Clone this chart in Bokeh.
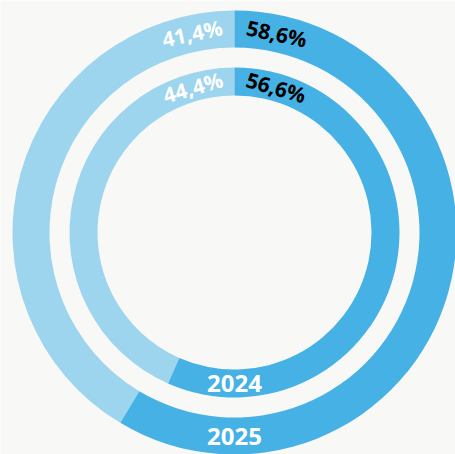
import math
from bokeh.plotting import figure
from bokeh.models import Range1d, ColumnDataSource
from bokeh.core.properties import value
from bokeh.embed import file_html
from bokeh.resources import INLINE

# Data
years = ["2024", "2025"]
share_dark = [56.6, 58.6]
share_light = [44.4, 41.4]
dark_labels = ["56,6%", "58,6%"]
light_labels = ["44,4%", "41,4%"]

# Style / layout
W, H = 455, 454
CX, CY = 234, 232  # ring centre in pixels from top-left of figure
inner_r = [137, 185]
outer_r = [165, 222]
label_deg = [16, 12]
DARK = "#45b1e5"
LIGHT = "#9dd5ef"
BG = "#f8f8f6"

p = figure(width=W, height=H, output_backend="svg", toolbar_location=None,
           x_range=Range1d(-CX, W - CX), y_range=Range1d(-(H - CY), CY),
           min_border=0, outline_line_color=None,
           background_fill_color=BG, border_fill_color=BG)
p.axis.visible = False
p.grid.visible = False

start = math.pi / 2
dark_end = [start - d / 100 * 2 * math.pi for d in share_dark]
light_end = [start - 2 * math.pi for _ in share_light]

src = ColumnDataSource(dict(ir=inner_r, orr=outer_r, ds=[start] * 2, de=dark_end,
                            le=light_end))
p.annular_wedge(x=0, y=0, inner_radius="ir", outer_radius="orr", start_angle="de",
                end_angle="le", direction="clock", color=LIGHT, line_color=None, source=src)
p.annular_wedge(x=0, y=0, inner_radius="ir", outer_radius="orr", start_angle="ds",
                end_angle="de", direction="clock", color=DARK, line_color=None, source=src)

mid = [(a + b) / 2 for a, b in zip(inner_r, outer_r)]
th = [math.radians(d) for d in label_deg]

def lab(xs, ys, texts, angles, color, size):
    p.text(x=xs, y=ys, text=texts, angle=angles, text_color=color,
           text_font=value("Open Sans"), text_font_style="bold",
           text_font_size=size, text_align="center", text_baseline="middle")

lab([r * math.sin(t) for r, t in zip(mid, th)], [r * math.cos(t) for r, t in zip(mid, th)],
    dark_labels, [-t for t in th], "#000000", "21px")
lab([-r * math.sin(t) for r, t in zip(mid, th)], [r * math.cos(t) for r, t in zip(mid, th)],
    light_labels, th, "#ffffff", "21px")
lab([0, 0], [-m for m in mid], years, [0, 0], "#ffffff", "24px")

open("out.html", "w").write(file_html(p, INLINE))
